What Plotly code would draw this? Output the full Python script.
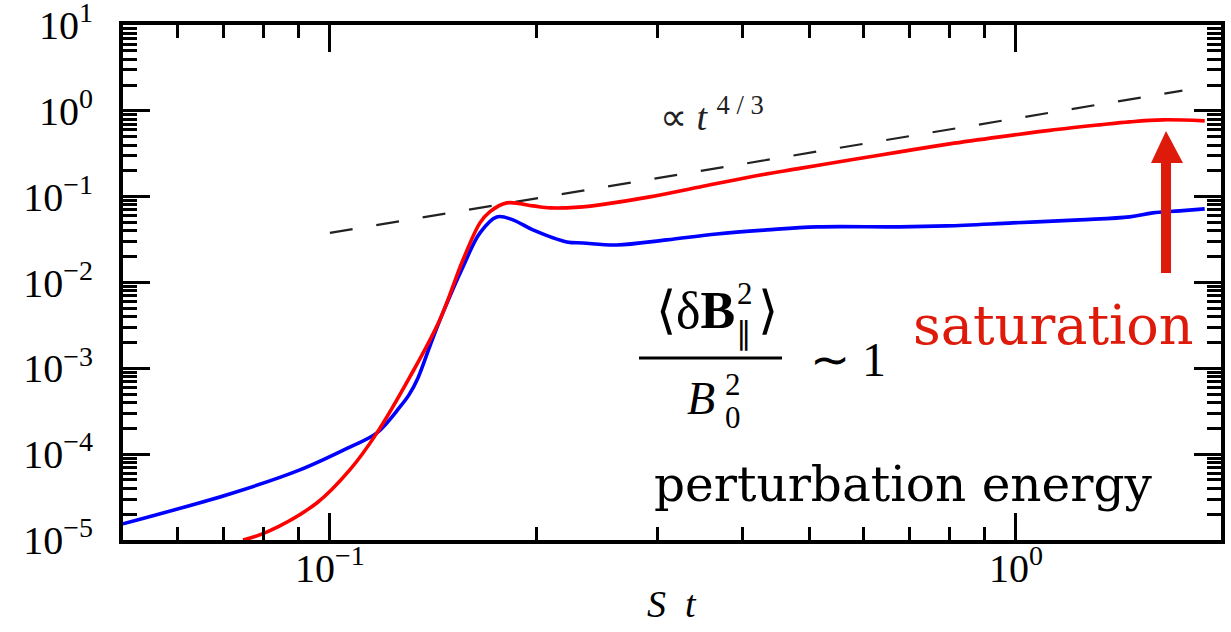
import math
import plotly.graph_objects as go

# Growth of the perturbation energy versus St (log-log)
red_t = [0.0747, 0.0810, 0.0957, 0.1069, 0.1171, 0.1308, 0.1446, 0.1563,
         0.1655, 0.1710, 0.1811, 0.1977, 0.2093, 0.2215, 0.2337, 0.2474, 0.2927,
         0.3462, 0.4095, 0.4843, 0.5728, 0.6773, 0.801, 0.948, 1.121, 1.326,
         1.466, 1.638, 1.886]
red_e = [1.0e-5, 1.24e-5, 2.70e-5, 6.55e-5, 1.77e-4, 7.94e-4, 3.66e-3, 1.83e-2,
         4.95e-2, 6.65e-2, 8.47e-2, 7.81e-2, 7.41e-2, 7.41e-2, 7.60e-2, 8.02e-2, 9.95e-2,
         0.130, 0.170, 0.2137, 0.268, 0.3327, 0.4124, 0.4977, 0.5924, 0.6866,
         0.7444, 0.7855, 0.7646]

blue_t = [0.0499, 0.0722, 0.0904, 0.1069, 0.1171, 0.1265, 0.1304, 0.1344, 0.1399,
          0.1461, 0.1563, 0.1655, 0.1751, 0.1848, 0.1977, 0.2215, 0.2337, 0.2620,
          0.3099, 0.3664, 0.4335, 0.5128, 0.6773, 0.7932, 0.990, 1.240, 1.466,
          1.584, 1.734, 1.886]
blue_e = [1.54e-5, 3.53e-5, 6.55e-5, 1.21e-4, 1.77e-4, 3.55e-4, 4.90e-4, 7.73e-4, 1.82e-3,
          4.42e-3, 1.52e-2, 3.79e-2, 5.81e-2, 5.37e-2, 4.10e-2, 2.97e-2, 2.89e-2, 2.74e-2,
          3.14e-2, 3.68e-2, 4.10e-2, 4.45e-2, 4.45e-2, 4.57e-2, 4.95e-2, 5.37e-2, 5.81e-2,
          6.48e-2, 6.83e-2, 7.21e-2]

# reference power law  E ~ t^(4/3)
guide_t = [0.1, 1.75]
guide_amp = 0.0379
guide_e = [guide_amp * (t / 0.1) ** (4 / 3) for t in guide_t]

x_ticks = [0.1, 1.0]
x_ticktext = ["10<sup>−1</sup>", "10<sup>0</sup>"]
x_minor = [0.06, 0.07, 0.08, 0.09, 0.2, 0.3, 0.4, 0.5, 0.6, 0.7, 0.8, 0.9, 2.0]

y_ticks = [1e-5, 1e-4, 1e-3, 1e-2, 1e-1, 1e0, 1e1]
y_ticktext = ["10<sup>−5</sup>", "10<sup>−4</sup>", "10<sup>−3</sup>", "10<sup>−2</sup>",
              "10<sup>−1</sup>", "10<sup>0</sup>", "10<sup>1</sup>"]
y_minor = [k * 10.0 ** n for n in range(-5, 1) for k in range(2, 10)]

SERIF = "Liberation Serif"
TEXT = "DejaVu Serif"
RED = "#de1a0a"

# plot-area pixel frame, used to place the text labels
X0, X1, Y0, Y1 = 123, 1221, 25, 540


def px(x):
    return (x - X0) / (X1 - X0)


def py(y):
    return (Y1 - y) / (Y1 - Y0)


fig = go.Figure()
fig.add_trace(go.Scatter(x=guide_t, y=guide_e, mode="lines",
                         line=dict(color="#222222", width=2.2, dash="23px,24px"),
                         hoverinfo="skip"))
fig.add_trace(go.Scatter(x=blue_t, y=blue_e, mode="lines",
                         line=dict(color="#0000ff", width=3.6, shape="spline", smoothing=1.0)))
fig.add_trace(go.Scatter(x=red_t, y=red_e, mode="lines",
                         line=dict(color="#ff0000", width=3.6, shape="spline", smoothing=1.0)))

axis_common = dict(
    showline=True, linecolor="black", linewidth=4, mirror="allticks",
    ticks="inside", ticklen=27, tickwidth=2.5, tickcolor="black",
    showgrid=False, zeroline=False, ticklabeloverflow="allow", automargin=False,
    tickfont=dict(family=SERIF, size=40, color="black"),
)

# x tick labels are placed as annotations at the tick values (see below)
fig.update_xaxes(type="log", range=[-1.3017, 0.2993], tickmode="array",
                 tickvals=x_ticks, showticklabels=False,
                 minor=dict(ticks="inside", ticklen=13, tickwidth=2.5, tickcolor="black",
                            tickvals=x_minor, showgrid=False),
                 **axis_common)
fig.update_yaxes(type="log", range=[-5.0003, 1.0003], tickmode="array",
                 tickvals=y_ticks, ticktext=y_ticktext, ticklabelstandoff=18,
                 minor=dict(ticks="inside", ticklen=14, tickwidth=2.5, tickcolor="black",
                            tickvals=y_minor, showgrid=False),
                 **axis_common)

ann = []


def label(text, x, y, size, color="black", family=SERIF, xanchor="center"):
    ann.append(dict(text=text, x=px(x), y=py(y), xref="paper", yref="paper",
                    xanchor=xanchor, yanchor="middle", showarrow=False,
                    font=dict(family=family, size=size, color=color)))


for v, txt in zip(x_ticks, x_ticktext):
    ann.append(dict(text=txt, x=math.log10(v), y=py(565), xref="x", yref="paper",
                    xanchor="center", yanchor="middle", showarrow=False,
                    font=dict(family=SERIF, size=40, color="black")))

label("<i>S  t</i>", 672, 604, 38)
label("∝ <i>t</i> <sup>4 / 3</sup>", 712, 114, 38, color="#222222")
# fraction  <δB_∥^2> / B_0^2  ~ 1
label("⟨δ<b>B</b>", 737, 310, 52, xanchor="right")
label("2", 745, 293, 31)
label("∥", 744, 333, 31)
label("⟩", 756, 310, 52, xanchor="left")
label("<i>B</i>", 717, 398, 46, xanchor="right")
label("2", 733, 384, 31)
label("0", 733, 417, 31)
label("∼ 1", 848, 360, 48)
label("saturation", 1053, 325, 54, color=RED, family=TEXT)
label("perturbation energy", 903, 484, 48.5, family=TEXT)

shapes = [
    # fraction bar
    dict(type="line", xref="paper", yref="paper", x0=px(639), x1=px(782),
         y0=py(358), y1=py(358), line=dict(color="black", width=3)),
    # arrow shaft and head
    dict(type="rect", xref="paper", yref="paper", x0=px(1161), x1=px(1171),
         y0=py(273), y1=py(160), fillcolor=RED, line=dict(width=0)),
    dict(type="path", xref="paper", yref="paper",
         path=f"M {px(1151)},{py(163)} L {px(1183)},{py(163)} L {px(1166)},{py(131)} Z",
         fillcolor=RED, line=dict(width=0)),
]

fig.update_layout(
    width=1231, height=632,
    margin=dict(l=X0, r=1231 - X1, t=Y0, b=632 - Y1),
    paper_bgcolor="white", plot_bgcolor="white",
    showlegend=False, annotations=ann, shapes=shapes,
)

fig.write_html("out.html")
